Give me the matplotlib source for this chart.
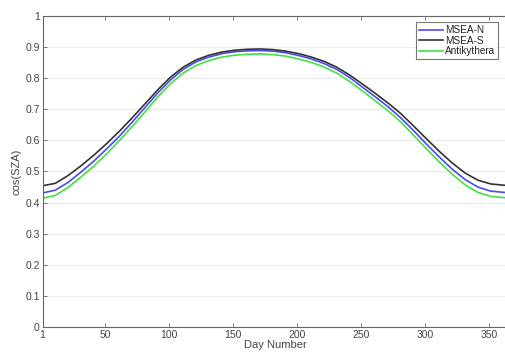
import matplotlib
matplotlib.use("Agg")
import matplotlib.pyplot as plt

plt.rcParams['font.family'] = ['Liberation Sans', 'DejaVu Sans']

days = [1, 11, 21, 31, 41, 51, 61, 71, 81, 91, 101, 111, 121, 131, 141, 151,
        161, 171, 181, 191, 201, 211, 221, 231, 241, 251, 261, 271, 281, 291,
        301, 311, 321, 331, 341, 351, 361, 365]

# cos(SZA) for each site
msea_n = [0.431, 0.440, 0.465, 0.498, 0.533, 0.572, 0.613, 0.658, 0.705,
          0.752, 0.794, 0.828, 0.852, 0.867, 0.878, 0.884, 0.887, 0.888,
          0.886, 0.881, 0.872, 0.861, 0.846, 0.827, 0.801, 0.770, 0.739,
          0.707, 0.671, 0.630, 0.587, 0.546, 0.507, 0.474, 0.450, 0.437,
          0.433, 0.432]
msea_s = [0.454, 0.462, 0.487, 0.518, 0.552, 0.589, 0.629, 0.672, 0.717,
          0.762, 0.803, 0.835, 0.858, 0.873, 0.883, 0.889, 0.892, 0.893,
          0.891, 0.886, 0.878, 0.867, 0.853, 0.834, 0.809, 0.780, 0.750,
          0.719, 0.685, 0.645, 0.604, 0.564, 0.527, 0.495, 0.472, 0.460,
          0.456, 0.455]
antikythera = [0.414, 0.423, 0.449, 0.482, 0.517, 0.556, 0.599, 0.644, 0.691,
               0.739, 0.782, 0.816, 0.840, 0.856, 0.867, 0.873, 0.876, 0.877,
               0.875, 0.870, 0.861, 0.850, 0.835, 0.815, 0.788, 0.758, 0.726,
               0.694, 0.658, 0.615, 0.572, 0.530, 0.491, 0.457, 0.433, 0.420,
               0.416, 0.415]

xticks = [1, 50, 100, 150, 200, 250, 300, 350]
yticks = [0, 0.1, 0.2, 0.3, 0.4, 0.5, 0.6, 0.7, 0.8, 0.9, 1]
yticklabels = ['0', '0.1', '0.2', '0.3', '0.4', '0.5', '0.6', '0.7', '0.8', '0.9', '1']

fig = plt.figure(figsize=(5.05, 3.55), dpi=100)
# axes runs a bit past the right edge, as in the original screenshot
ax = fig.add_axes([0.0842, 0.078, 0.923, 0.878])

ax.plot(days, msea_n, color='#4a4af0', lw=1.2, label='MSEA-N')
ax.plot(days, msea_s, color='#333333', lw=1.2, label='MSEA-S')
ax.plot(days, antikythera, color='#44e044', lw=1.2, label='Antikythera')

ax.set_xlim(1, 365)
ax.set_ylim(0, 1)
ax.set_xticks(xticks)
ax.set_yticks(yticks)
ax.set_yticklabels(yticklabels)

ax.grid(axis='y', color='#ececec', lw=0.8)
ax.set_axisbelow(True)

for s in ax.spines.values():
    s.set_color('#666666')
    s.set_linewidth(0.8)

ax.tick_params(direction='in', top=True, right=True, length=3, width=0.6,
               colors='#666666', labelcolor='#444444', labelsize=7.5, pad=2)

ax.set_xlabel('Day Number', fontsize=8, color='#444444', labelpad=0)
ax.set_ylabel('cos(SZA)', fontsize=8, color='#444444', labelpad=3)

leg = ax.legend(loc='upper right', bbox_to_anchor=(0.978, 0.978), fontsize=7.2,
                frameon=True, fancybox=False, handlelength=2.4, handletextpad=0.2,
                borderpad=0.3, labelspacing=0.05, borderaxespad=0)
leg.get_frame().set_edgecolor('#555555')
leg.get_frame().set_linewidth(0.8)
for t in leg.get_texts():
    t.set_color('#222222')

fig.savefig('out.png', dpi=100)
